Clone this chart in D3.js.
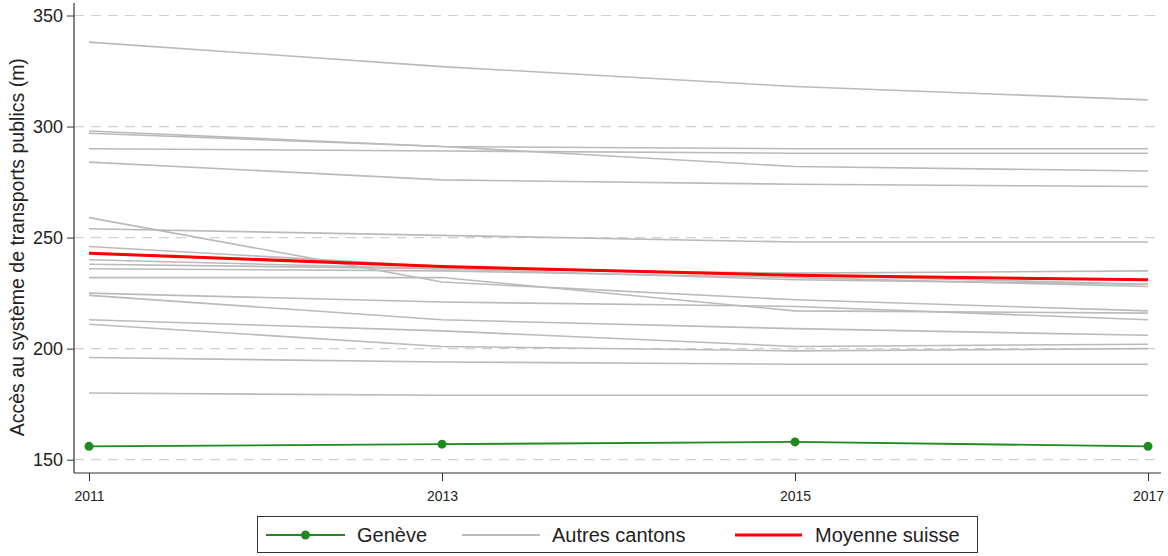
<!DOCTYPE html>
<html>
<head>
<meta charset="utf-8">
<script src="https://cdn.jsdelivr.net/npm/d3@7"></script>
<style>
  body { margin: 0; background: #fff; }
  svg { display: block; font-family: "Liberation Sans", Arial, sans-serif; }
</style>
</head>
<body>
<svg id="chart" width="1168" height="556"></svg>
<script>
// ---- data ----
const years = [2011, 2013, 2015, 2017];
const yTicks = [150, 200, 250, 300, 350];
const geneve = [156, 157, 158, 156];
const moyenneSuisse = [243, 237, 233, 231];
const autresCantons = [
  [338, 327, 318, 312],
  [298, 291, 290, 290],
  [297, 291, 282, 280],
  [290, 289, 288, 288],
  [284, 276, 274, 273],
  [259, 230, 222, 217],
  [254, 251, 248, 248],
  [246, 237, 233, 229],
  [240, 236, 234, 235],
  [238, 236, 231, 229],
  [236, 235, 232, 228],
  [232, 232, 217, 216],
  [225, 221, 219, 213],
  [224, 213, 209, 206],
  [213, 208, 201, 202],
  [211, 201, 199, 200],
  [196, 194, 193, 193],
  [180, 179, 179, 179]
];
const legendLabels = ["Genève", "Autres cantons", "Moyenne suisse"];
const yTitle = "Accès au système de transports publics (m)";

// ---- layout ----
const svg = d3.select("#chart");
const x = d3.scaleLinear().domain([2011, 2017]).range([89, 1148]);
const y = d3.scaleLinear().domain([150, 350]).range([459.7, 15.5]);
const axisLeftX = 74, axisBottomY = 473, plotRight = 1161;

const grayC = "#bababa", redC = "#ff0000", greenC = "#1f8a1f";

// gridlines
svg.append("g").selectAll("line").data(yTicks).join("line")
  .attr("x1", axisLeftX).attr("x2", plotRight)
  .attr("y1", d => y(d)).attr("y2", d => y(d))
  .attr("stroke", "#d0d0d0").attr("stroke-width", 1.2)
  .attr("stroke-dasharray", "10,7");

const line = d3.line().x((d, i) => x(years[i])).y(d => y(d));

// other cantons
svg.append("g").selectAll("path").data(autresCantons).join("path")
  .attr("d", d => line(d)).attr("fill", "none")
  .attr("stroke", grayC).attr("stroke-width", 1.6);

// Swiss average
svg.append("path").attr("d", line(moyenneSuisse)).attr("fill", "none")
  .attr("stroke", redC).attr("stroke-width", 3);

// Geneva
svg.append("path").attr("d", line(geneve)).attr("fill", "none")
  .attr("stroke", greenC).attr("stroke-width", 1.8);
svg.append("g").selectAll("circle").data(geneve).join("circle")
  .attr("cx", (d, i) => x(years[i])).attr("cy", d => y(d)).attr("r", 4.5)
  .attr("fill", greenC);

// axes
const yAxis = d3.axisLeft(y).tickValues(yTicks).tickSize(7).tickPadding(4);
const gy = svg.append("g").attr("transform", `translate(${axisLeftX},0)`).call(yAxis);
gy.select(".domain").remove();
gy.append("line").attr("x1", 0).attr("x2", 0).attr("y1", 3).attr("y2", axisBottomY)
  .attr("stroke", "#333").attr("stroke-width", 1.2);
gy.selectAll(".tick line").attr("stroke", "#333");
gy.selectAll(".tick text").attr("font-size", 18).attr("fill", "#222");

const xAxis = d3.axisBottom(x).tickValues(years).tickFormat(d3.format("d")).tickSize(8).tickPadding(10);
const gx = svg.append("g").attr("transform", `translate(0,${axisBottomY})`).call(xAxis);
gx.select(".domain").remove();
gx.append("line").attr("x1", axisLeftX).attr("x2", plotRight).attr("y1", 0).attr("y2", 0)
  .attr("stroke", "#333").attr("stroke-width", 1.2);
gx.selectAll(".tick line").attr("stroke", "#333");
gx.selectAll(".tick text").attr("font-size", 14).attr("fill", "#222");

// y title
svg.append("text")
  .attr("transform", `translate(24,${(y(350) + axisBottomY) / 2 + 3}) rotate(-90)`)
  .attr("text-anchor", "middle").attr("font-size", 19.5).attr("fill", "#222")
  .text(yTitle);

// legend
const lg = svg.append("g");
lg.append("rect").attr("x", 257.5).attr("y", 516.5).attr("width", 720).attr("height", 36)
  .attr("fill", "#fff").attr("stroke", "#333").attr("stroke-width", 1);
const legItems = [
  { x1: 266, x2: 345, tx: 357, color: greenC, w: 1.8, dot: true },
  { x1: 462, x2: 540, tx: 552, color: grayC, w: 1.8, dot: false },
  { x1: 735, x2: 802, tx: 815, color: redC, w: 3, dot: false }
];
const ly = 535;
legItems.forEach((it, i) => {
  lg.append("line").attr("x1", it.x1).attr("x2", it.x2).attr("y1", ly).attr("y2", ly)
    .attr("stroke", it.color).attr("stroke-width", it.w);
  if (it.dot) lg.append("circle").attr("cx", (it.x1 + it.x2) / 2).attr("cy", ly).attr("r", 4.5).attr("fill", it.color);
  lg.append("text").attr("x", it.tx).attr("y", ly + 7).attr("font-size", 20).attr("fill", "#222")
    .text(legendLabels[i]);
});
</script>
</body>
</html>
